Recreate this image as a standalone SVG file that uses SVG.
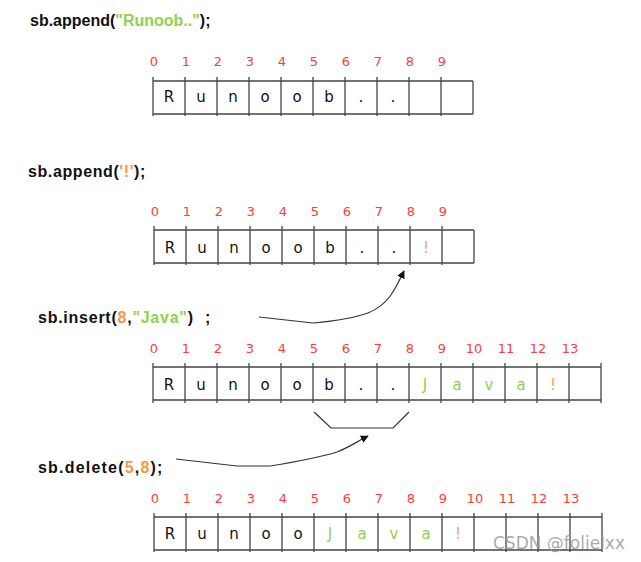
<svg xmlns="http://www.w3.org/2000/svg" width="641" height="562" viewBox="0 0 641 562">
<defs>
<style>
.code{font-family:"Liberation Sans",Arial,sans-serif;font-weight:bold;font-size:16px;fill:#111}
.g{fill:#92D050}
.o{fill:#F79646}
.idx{font-family:"DejaVu Sans",sans-serif;font-size:13px;fill:#FF3B3B;text-anchor:middle}
.ch{font-family:"DejaVu Sans",sans-serif;font-size:15px;fill:#111;text-anchor:middle}
.cg{fill:#92D050}
.co{fill:#F5A55A}
.grid line{stroke:#444;stroke-width:1.3}
.conn{fill:none;stroke:#333;stroke-width:1.2}
.wm{font-family:"DejaVu Sans",sans-serif;font-size:17px;fill:#9a9a9a;fill-opacity:0.85}
</style>
<marker id="ah" viewBox="0 0 10 10" refX="9" refY="5" markerWidth="8" markerHeight="8" orient="auto" markerUnits="userSpaceOnUse">
<path d="M0,0 L10,5 L0,10 z" fill="#111"/>
</marker>
</defs>
<rect width="641" height="562" fill="#fff"/>

<g id="code1"><text class="code" x="30" y="26">sb.append(<tspan class="g">"Runoob.."</tspan>);</text></g>
<g id="code2"><text class="code" x="28" y="177" letter-spacing="0.6">sb.append(<tspan class="o">'!'</tspan>);</text></g>
<g id="code3"><text class="code" x="38" y="323" letter-spacing="0.75">sb.insert(<tspan class="o">8</tspan>,<tspan class="g">"Java"</tspan>)</text><text class="code" x="205" y="323">;</text></g>
<g id="code4"><text class="code" x="38" y="473" letter-spacing="1.2">sb.delete(<tspan class="o">5</tspan>,<tspan class="o">8</tspan>);</text></g>

<g id="array1">
<g class="grid">
<line x1="153" y1="81" x2="473" y2="81"/><line x1="153" y1="114" x2="473" y2="114"/>
<line x1="153" y1="77" x2="153" y2="116"/><line x1="185" y1="77" x2="185" y2="116"/><line x1="217" y1="77" x2="217" y2="116"/><line x1="249" y1="77" x2="249" y2="116"/><line x1="281" y1="77" x2="281" y2="116"/><line x1="313" y1="77" x2="313" y2="116"/><line x1="345" y1="77" x2="345" y2="116"/><line x1="377" y1="77" x2="377" y2="116"/><line x1="409" y1="77" x2="409" y2="116"/><line x1="441" y1="77" x2="441" y2="116"/><line x1="473" y1="81" x2="473" y2="114"/>
</g>
<g class="idx"><text x="154" y="66">0</text><text x="186" y="66">1</text><text x="218" y="66">2</text><text x="250" y="66">3</text><text x="282" y="66">4</text><text x="314" y="66">5</text><text x="346" y="66">6</text><text x="378" y="66">7</text><text x="410" y="66">8</text><text x="442" y="66">9</text></g>
<g class="ch"><text x="169" y="102">R</text><text x="201" y="102">u</text><text x="233" y="102">n</text><text x="265" y="102">o</text><text x="297" y="102">o</text><text x="329" y="102">b</text><text x="361" y="102">.</text><text x="393" y="102">.</text></g>
</g>

<g id="array2">
<g class="grid">
<line x1="154" y1="230" x2="474" y2="230"/><line x1="154" y1="263" x2="474" y2="263"/>
<line x1="154" y1="226" x2="154" y2="265"/><line x1="186" y1="226" x2="186" y2="265"/><line x1="218" y1="226" x2="218" y2="265"/><line x1="250" y1="226" x2="250" y2="265"/><line x1="282" y1="226" x2="282" y2="265"/><line x1="314" y1="226" x2="314" y2="265"/><line x1="346" y1="226" x2="346" y2="265"/><line x1="378" y1="226" x2="378" y2="265"/><line x1="410" y1="226" x2="410" y2="265"/><line x1="442" y1="226" x2="442" y2="265"/><line x1="474" y1="230" x2="474" y2="263"/>
</g>
<g class="idx"><text x="155" y="216">0</text><text x="187" y="216">1</text><text x="219" y="216">2</text><text x="251" y="216">3</text><text x="283" y="216">4</text><text x="315" y="216">5</text><text x="347" y="216">6</text><text x="379" y="216">7</text><text x="411" y="216">8</text><text x="443" y="216">9</text></g>
<g class="ch"><text x="170" y="253">R</text><text x="202" y="253">u</text><text x="234" y="253">n</text><text x="266" y="253">o</text><text x="298" y="253">o</text><text x="330" y="253">b</text><text x="362" y="253">.</text><text x="394" y="253">.</text><text class="co" x="426" y="253">!</text></g>
</g>

<g id="array3">
<g class="grid">
<line x1="153" y1="367" x2="601" y2="367"/><line x1="153" y1="400" x2="601" y2="400"/>
<line x1="153" y1="363" x2="153" y2="403"/><line x1="185" y1="363" x2="185" y2="403"/><line x1="217" y1="363" x2="217" y2="403"/><line x1="249" y1="363" x2="249" y2="403"/><line x1="281" y1="363" x2="281" y2="403"/><line x1="313" y1="363" x2="313" y2="403"/><line x1="345" y1="363" x2="345" y2="403"/><line x1="377" y1="363" x2="377" y2="403"/><line x1="409" y1="363" x2="409" y2="403"/><line x1="441" y1="363" x2="441" y2="403"/><line x1="473" y1="363" x2="473" y2="403"/><line x1="505" y1="363" x2="505" y2="403"/><line x1="537" y1="363" x2="537" y2="403"/><line x1="569" y1="363" x2="569" y2="403"/><line x1="601" y1="363" x2="601" y2="403"/>
</g>
<g class="idx"><text x="154" y="353">0</text><text x="186" y="353">1</text><text x="218" y="353">2</text><text x="250" y="353">3</text><text x="282" y="353">4</text><text x="314" y="353">5</text><text x="346" y="353">6</text><text x="378" y="353">7</text><text x="410" y="353">8</text><text x="442" y="353">9</text><text x="474" y="353">10</text><text x="506" y="353">11</text><text x="538" y="353">12</text><text x="570" y="353">13</text></g>
<g class="ch"><text x="169" y="390">R</text><text x="201" y="390">u</text><text x="233" y="390">n</text><text x="265" y="390">o</text><text x="297" y="390">o</text><text x="329" y="390">b</text><text x="361" y="390">.</text><text x="393" y="390">.</text><text class="cg" x="425" y="390">J</text><text class="cg" x="457" y="390">a</text><text class="cg" x="489" y="390">v</text><text class="cg" x="521" y="390">a</text><text class="co" x="553" y="390">!</text></g>
</g>

<g id="array4">
<g class="grid">
<line x1="154" y1="517" x2="602" y2="517"/><line x1="154" y1="550" x2="602" y2="550"/>
<line x1="154" y1="513" x2="154" y2="552"/><line x1="186" y1="513" x2="186" y2="552"/><line x1="218" y1="513" x2="218" y2="552"/><line x1="250" y1="513" x2="250" y2="552"/><line x1="282" y1="513" x2="282" y2="552"/><line x1="314" y1="513" x2="314" y2="552"/><line x1="346" y1="513" x2="346" y2="552"/><line x1="378" y1="513" x2="378" y2="552"/><line x1="410" y1="513" x2="410" y2="552"/><line x1="442" y1="513" x2="442" y2="552"/><line x1="474" y1="513" x2="474" y2="552"/><line x1="506" y1="513" x2="506" y2="552"/><line x1="538" y1="513" x2="538" y2="552"/><line x1="570" y1="513" x2="570" y2="552"/><line x1="602" y1="513" x2="602" y2="552"/>
</g>
<g class="idx"><text x="155" y="503">0</text><text x="187" y="503">1</text><text x="219" y="503">2</text><text x="251" y="503">3</text><text x="283" y="503">4</text><text x="315" y="503">5</text><text x="347" y="503">6</text><text x="379" y="503">7</text><text x="411" y="503">8</text><text x="443" y="503">9</text><text x="475" y="503">10</text><text x="507" y="503">11</text><text x="539" y="503">12</text><text x="571" y="503">13</text></g>
<g class="ch"><text x="170" y="539">R</text><text x="202" y="539">u</text><text x="234" y="539">n</text><text x="266" y="539">o</text><text x="298" y="539">o</text><text class="cg" x="330" y="539">J</text><text class="cg" x="362" y="539">a</text><text class="cg" x="394" y="539">v</text><text class="cg" x="426" y="539">a</text><text class="co" x="458" y="539">!</text></g>
</g>

<g id="connectors">
<path class="conn" d="M259,317 L313,323 C335,321 352,319 368,313 C388,305 395,290 404,271" marker-end="url(#ah)"/>
<path class="conn" d="M314,412 L331,428 L393,428 L409,412"/>
<path class="conn" d="M176,459 L237,466 L270,466 C295,462 318,458 337,452 C350,447 358,441 368,436" marker-end="url(#ah)"/>
</g>

<g id="watermark"><text class="wm" x="493" y="549" textLength="132" lengthAdjust="spacingAndGlyphs">CSDN @folielxx</text></g>
</svg>
